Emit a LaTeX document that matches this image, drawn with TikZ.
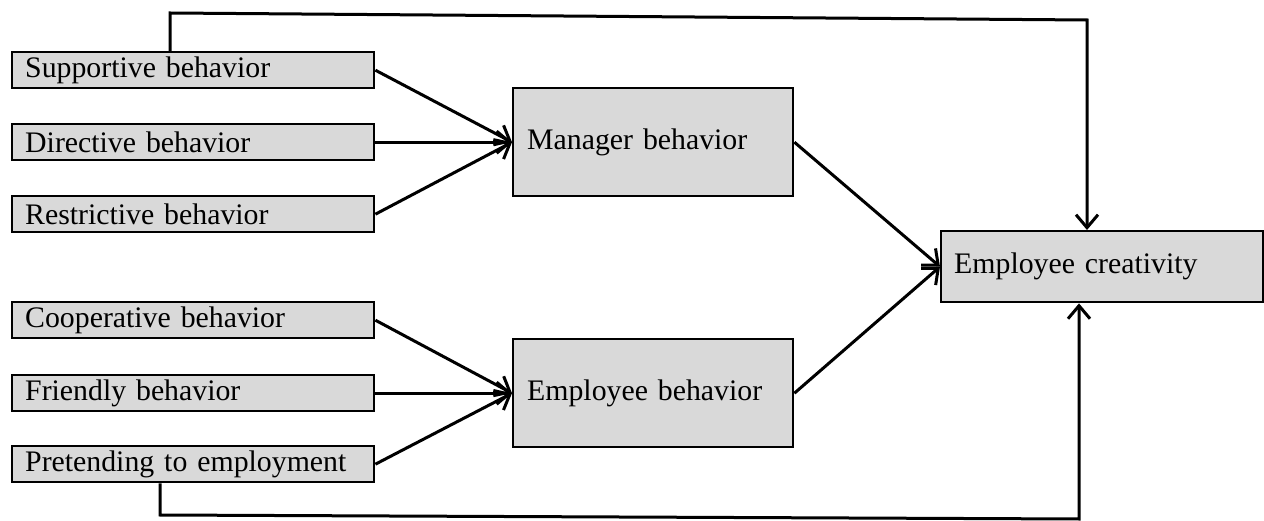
\documentclass[tikz,border=0pt]{standalone}
\usepackage{fontspec}
\setmainfont{Liberation Serif}
\usetikzlibrary{arrows.meta}
\definecolor{boxgray}{HTML}{D9D9D9}
\tikzset{
  box/.style={draw=black, line width=2.4pt, fill=boxgray, anchor=north west,
    font=\fontsize{29.8pt}{32pt}\selectfont, align=left, inner ysep=0pt},
  leftbox/.style={box, text width=336pt, inner xsep=13pt, minimum height=36pt},
  midbox/.style={box, text width=252pt, inner xsep=14pt, minimum height=108pt},
  conn/.style={line width=3pt, -{Straight Barb[length=13pt,width=22pt]}},
  plain/.style={line width=3pt}
}
\begin{document}
\begin{tikzpicture}[x=1pt,y=-1pt]
\useasboundingbox (0,0) rectangle (1264,521);
\node[leftbox] (s) at (11,51) {Supportive behavior};
\node[leftbox] (d) at (11,123) {Directive behavior};
\node[leftbox] (r) at (11,195) {Restrictive behavior};
\node[leftbox] (co) at (11,301) {Cooperative behavior};
\node[leftbox] (f) at (11,374) {Friendly behavior};
\node[leftbox] (p) at (11,445) {Pretending to employment};
\node[midbox] (m) at (512,87) {Manager behavior};
\node[midbox] (e) at (512,338) {Employee behavior};
\node[box, text width=296pt, inner xsep=13pt, minimum height=71pt] (c) at (940,230) {Employee creativity};
\draw[conn] (s.east) -- (m.west);
\draw[conn] (d.east) -- (m.west);
\draw[conn] (r.east) -- (m.west);
\draw[conn] (co.east) -- (e.west);
\draw[conn] (f.east) -- (e.west);
\draw[conn] (p.east) -- (e.west);
\draw[conn] (m.east) -- (c.west);
\draw[conn] (e.east) -- (c.west);
\coordinate (t1) at (170,13);
\coordinate (t2) at (1087,20);
\draw[conn] (s.north -| t1) -- (t1) -- (t2) -- (t2 |- c.north);
\coordinate (b1) at (160,515);
\coordinate (b2) at (1079,519);
\draw[conn] (p.south -| b1) -- (b1) -- (b2) -- (b2 |- c.south);
\end{tikzpicture}
\end{document}
